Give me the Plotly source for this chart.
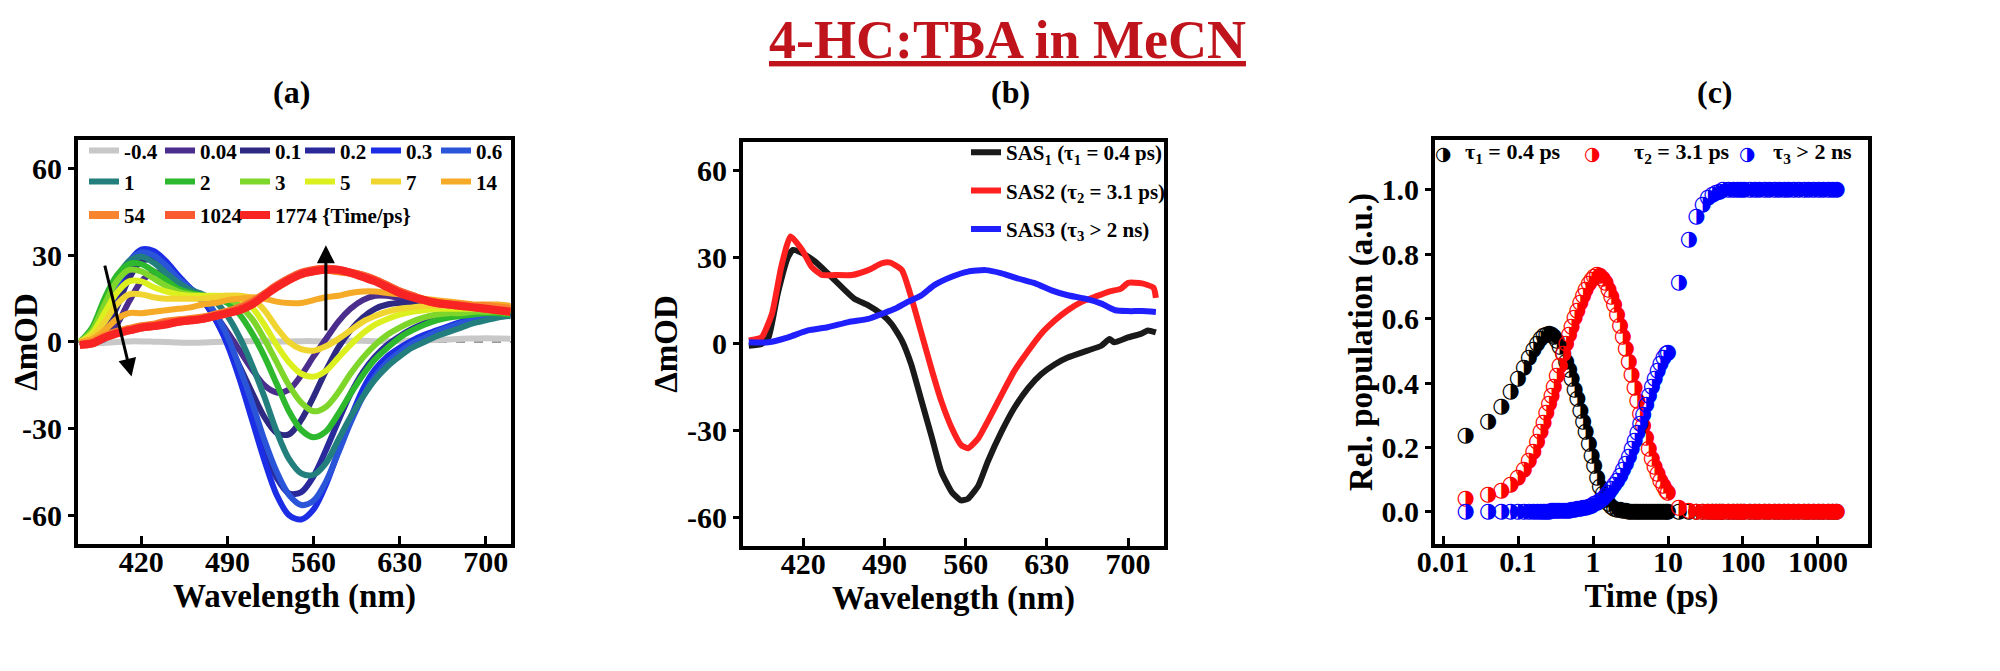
import plotly.graph_objects as go

FONT = "Liberation Serif"
GLYPH_FONT = "DejaVu Sans"

# ---------------- panel (a): transient absorption spectra ----------------
wl_a = [370, 380, 390, 400, 410, 420, 430, 440, 450, 460, 470, 480,
        490, 500, 510, 520, 530, 540, 550, 560, 570, 580, 590, 600,
        610, 620, 630, 640, 650, 660, 670, 680, 690, 700, 710, 720]

delays_a = ["-0.4", "0.04", "0.1", "0.2", "0.3", "0.6", "1", "2", "3",
            "5", "7", "14", "54", "1024", "1774 {Time/ps}"]
colors_a = ["#c8c8c8", "#4a2d8c", "#2e2a84", "#29299c", "#1c2de6", "#2a55d8",
            "#237f7d", "#2db82d", "#7ed62b", "#dcf020", "#f0d530", "#f5ab27",
            "#f8842e", "#fb5a31", "#f82323"]

d_m04 = [-0.8, -0.5, -0.3, 0.0, 0.2, 0.2, 0.1, 0.0, -0.2, -0.3, -0.2, 0.0,
         0.1, 0.2, 0.3, 0.3, 0.2, 0.2, 0.3, 0.3, 0.2, 0.3, 0.4, 0.4,
         0.3, 0.3, 0.4, 0.5, 0.6, 0.7, 0.9, 1.1, 1.2, 1.3, 1.2, 1.1]
d_004 = [0, 0, 1, 6, 14, 21, 24, 23.5, 21, 17.5, 14, 9.5,
         3.5, -3, -9.5, -15, -17.5, -16.5, -11.5, -5, 1, 7, 11.5, 14.5,
         16, 16, 15, 14, 13, 12.5, 12, 11.5, 11, 10.5, 10, 9]
d_01 = [0, 0, 3, 12, 22, 28, 28.5, 26, 22, 18, 14.5, 8,
        0, -8.5, -17.5, -26, -31.5, -32, -27, -19, -10, -2, 4, 8.5,
        11.5, 13, 13.5, 13.5, 13, 12.5, 12, 11.5, 11, 10.5, 10, 9]
d_02 = [0, 0.5, 5, 16, 26, 30.5, 30, 27, 22.5, 18.5, 15, 9,
        0, -11, -24, -37, -47, -52.5, -52, -46.5, -37.5, -27.5, -18, -10.5,
        -5, -1, 2, 4.5, 6.5, 8, 9, 10, 10, 10.5, 10, 9.5]
d_03 = [0, 1, 7, 18, 27.5, 32, 31.5, 28, 23, 18.5, 14.5, 8,
        -1, -13, -27, -41, -53, -60, -61.5, -58, -49.5, -38, -26.5, -16.5,
        -9.5, -5, -2, 0.5, 2.5, 4, 5.5, 7, 8.5, 9, 9.5, 9]
d_06 = [0, 2, 9, 20, 28, 31, 30, 26.5, 22, 18.5, 15.5, 10,
        2, -9, -21, -34, -45, -53, -56.5, -55, -48.5, -38.5, -28, -19,
        -12, -7, -3.5, -0.5, 1.5, 3.5, 5, 6.5, 7.5, 8.5, 9, 9]
d_1 = [0, 3, 12, 22, 28, 29.5, 27.5, 24, 20.5, 18, 16.5, 14,
       9, 1.5, -8, -19, -31, -40.5, -45.5, -46, -42, -34, -26, -19,
       -13, -8.5, -5, -2, 0, 2, 3.5, 5, 6.5, 7.5, 8.5, 9]
d_2 = [0, 5, 15, 23, 27, 27, 24.5, 21.5, 18.5, 17, 16, 15,
       13.5, 9.5, 3, -5, -14.5, -24, -30.5, -33, -31, -25, -18, -11.5,
       -6, -2, 1.5, 4, 6, 7.5, 8.5, 9, 9.5, 10, 10, 9.5]
d_3 = [0, 4, 13, 21, 25, 24.5, 22, 19.5, 17.5, 16.5, 16, 15.5,
       15, 12.5, 8, 1, -7, -15, -21, -24, -22.5, -17.5, -11, -5.5,
       -1, 2.5, 5, 7, 8.5, 9.5, 10, 10, 10.5, 10.5, 10.5, 10]
d_5 = [0, 3, 10, 17, 21, 21, 19, 17.5, 16.5, 16, 16, 16,
       16, 15, 12, 6, -1, -7, -11, -12, -10, -5.5, -1, 3,
       6, 8, 9.5, 10.5, 11, 11.5, 11.5, 11.5, 11.5, 11.5, 11.5, 11]
d_7 = [0, 2, 7, 13, 16.5, 16.5, 15.5, 15, 15, 15, 15, 15.5,
       16, 16, 15, 11, 5, 0, -2.5, -3, -1.5, 1, 4, 7,
       9, 10.5, 11.5, 12, 12.5, 12.5, 12.5, 12.5, 12, 12, 12, 11.5]
d_14 = [0, 1, 4, 8, 10, 10, 10.5, 11, 11.5, 12, 13, 13.5,
        14.5, 15, 15.5, 15, 14, 13.5, 13.5, 14.5, 15.5, 16, 17, 17.5,
        17.5, 17, 16.5, 16, 15, 14.5, 14, 13.5, 13, 13, 13, 12.5]
d_54 = [-1, 0, 2, 3.5, 4.5, 5.5, 6, 7, 7.5, 8, 8.5, 9.5,
        10.5, 12, 14, 16.5, 19, 21.5, 23.5, 24.5, 25, 24.5, 24, 23,
        21.5, 19.5, 17.5, 16, 14.5, 13.5, 13, 13, 12.5, 12.5, 12, 11.5]
d_1024 = [-1, -0.5, 1.5, 3, 4, 5, 5.5, 6.5, 7, 7.5, 8, 9,
          10, 11.5, 13.5, 16.5, 19.5, 22, 24, 25, 25.5, 25, 24, 23,
          21.5, 19.5, 17.5, 16, 14.5, 13.5, 13, 12.5, 12, 11.5, 11, 10.5]
d_1774 = [-1, -0.5, 1.5, 3, 4, 5, 5.5, 6, 7, 7.5, 8, 9,
          10, 11, 13, 16, 19, 21.5, 23.5, 24.5, 25, 25, 24, 22.5,
          21, 19, 17, 15.5, 14.5, 13.5, 13, 12.5, 12, 11.5, 11, 10.5]

spectra_a = [d_m04, d_004, d_01, d_02, d_03, d_06, d_1, d_2, d_3,
             d_5, d_7, d_14, d_54, d_1024, d_1774]

# ---------------- panel (b): species associated spectra ----------------
wl_sas1 = [373, 384, 390, 398, 407, 411, 419, 430, 441, 453, 464, 476, 487,
           496, 505, 513, 522, 531, 539, 548, 556, 562, 571, 579, 591, 602,
           614, 625, 637, 648, 665, 677, 684, 688, 700, 711, 717, 724]
sas1 = [-0.6, 0, 2.3, 17.5, 30.3, 32.6, 31.5, 28.6, 24.5, 19.8, 15.7, 13.4, 10.5,
        7, 1.2, -7, -19.8, -32.6, -44.3, -51.3, -54.2, -53.6, -49, -40.8, -30.3, -22.1,
        -15.2, -10.5, -7, -4.7, -2.3, -0.6, 1.7, 0.6, 2.3, 3.5, 4.7, 4]
wl_sas2 = [373, 384, 393, 401, 409, 419, 427, 436, 447, 462, 476, 488, 495,
           505, 513, 522, 531, 539, 548, 556, 562, 571, 579, 591, 602, 614,
           625, 637, 648, 660, 671, 683, 694, 700, 712, 722, 724]
sas2 = [1.2, 2.3, 10.5, 26.8, 37.3, 32.6, 26.8, 23.9, 23.9, 23.9, 25.6, 28, 28.2,
        25.6, 16.3, 3.5, -9.3, -19.8, -29.1, -35, -36.1, -32.6, -26.8, -17.5, -9.3, -2.3,
        3.5, 8.2, 11.7, 14.6, 16.3, 18.1, 19.2, 21.2, 21, 19.5, 16]
wl_sas3 = [373, 390, 407, 424, 441, 459, 476, 488, 499, 510, 522, 533, 548,
           562, 577, 591, 605, 620, 634, 648, 663, 677, 689, 700, 712, 724]
sas3 = [0.6, 0.6, 2.3, 4.7, 5.8, 7.6, 8.7, 10.5, 12.2, 14.6, 16.9, 20.4, 23.3,
        25.1, 25.6, 24.5, 22.7, 21, 18.6, 16.9, 15.7, 14, 11.7, 11.4, 11.4, 11.1]

sas_names = ["SAS<sub>1</sub> (τ<sub>1</sub> = 0.4 ps)",
             "SAS2 (τ<sub>2</sub> = 3.1 ps)",
             "SAS3 (τ<sub>3</sub> > 2 ns)"]
sas_colors = ["#1a1a1a", "#ff2020", "#2020ff"]

# ---------------- panel (c): relative populations ----------------
t_c = [0.02, 0.04, 0.06, 0.08, 0.1, 0.12, 0.14, 0.16, 0.18, 0.2,
       0.22, 0.24, 0.26, 0.28, 0.3, 0.33, 0.36, 0.4, 0.44, 0.48,
       0.52, 0.57, 0.62, 0.68, 0.74, 0.8, 0.88, 0.96, 1.04, 1.14,
       1.24, 1.36, 1.48, 1.62, 1.76, 1.92, 2.1, 2.3, 2.5, 2.74,
       3.0, 3.28, 3.58, 3.9, 4.26, 4.66, 5.1, 5.56, 6.08, 6.64,
       7.26, 7.92, 8.66, 9.46, 10.0,
       14, 19, 24, 29, 34, 39, 44, 49, 54, 64,
       74, 84, 94, 104, 124, 144, 164, 194, 224, 264,
       304, 354, 404, 474, 554, 654, 754, 874, 1024, 1174,
       1374, 1574, 1774]
pop_1 = [0.235, 0.28, 0.325, 0.372, 0.412, 0.448, 0.478, 0.503, 0.523, 0.537,
         0.546, 0.551, 0.552, 0.549, 0.543, 0.53, 0.513, 0.49, 0.465, 0.44,
         0.413, 0.38, 0.35, 0.315, 0.28, 0.25, 0.212, 0.175, 0.142, 0.105,
         0.078, 0.055, 0.038, 0.026, 0.017, 0.011, 0.007, 0.005, 0.003, 0.002,
         0.001, 0, 0, 0, 0, 0, 0, 0, 0, 0,
         0, 0, 0, 0, 0,
         0, 0, 0, 0, 0, 0, 0, 0, 0, 0,
         0, 0, 0, 0, 0, 0, 0, 0, 0, 0,
         0, 0, 0, 0, 0, 0, 0, 0, 0, 0,
         0, 0, 0]
pop_2 = [0.04, 0.052, 0.065, 0.083, 0.105, 0.13, 0.158, 0.188, 0.218, 0.248,
         0.278, 0.307, 0.335, 0.362, 0.388, 0.423, 0.455, 0.49, 0.522, 0.55,
         0.575, 0.602, 0.625, 0.65, 0.672, 0.69, 0.708, 0.722, 0.731, 0.735,
         0.733, 0.724, 0.71, 0.69, 0.668, 0.642, 0.612, 0.578, 0.545, 0.505,
         0.465, 0.425, 0.385, 0.345, 0.305, 0.266, 0.229, 0.195, 0.165, 0.14,
         0.118, 0.098, 0.08, 0.066, 0.058,
         0.012, 0.003, 0, 0, 0, 0, 0, 0, 0, 0,
         0, 0, 0, 0, 0, 0, 0, 0, 0, 0,
         0, 0, 0, 0, 0, 0, 0, 0, 0, 0,
         0, 0, 0]
pop_3 = [0, 0, 0, 0, 0, 0, 0, 0, 0, 0.001,
         0.001, 0.001, 0.001, 0.002, 0.002, 0.002, 0.003, 0.003, 0.004, 0.004,
         0.005, 0.006, 0.008, 0.01, 0.012, 0.014, 0.017, 0.02, 0.024, 0.029,
         0.035, 0.042, 0.05, 0.06, 0.071, 0.083, 0.097, 0.113, 0.13, 0.15,
         0.172, 0.196, 0.221, 0.247, 0.275, 0.303, 0.332, 0.36, 0.388, 0.414,
         0.439, 0.461, 0.478, 0.49, 0.495,
         0.71, 0.845, 0.915, 0.955, 0.975, 0.985, 0.99, 0.995, 1.0, 1.0,
         1.0, 1.0, 1.0, 1.0, 1.0, 1.0, 1.0, 1.0, 1.0, 1.0,
         1.0, 1.0, 1.0, 1.0, 1.0, 1.0, 1.0, 1.0, 1.0, 1.0,
         1.0, 1.0, 1.0]
pop_labels = ["τ<sub>1</sub> = 0.4 ps", "τ<sub>2</sub> = 3.1 ps", "τ<sub>3</sub> > 2 ns"]
pop_colors = ["#000000", "#ff0000", "#0000ff"]

mod_ticks = [-60, -30, 0, 30, 60]
mod_ticktext = ["-60", "-30", "0", "30", "60"]
wl_ticks = [420, 490, 560, 630, 700]

fig = go.Figure()

# panel (a): each legend entry is its own small legend so the grid matches the figure
leg_cols = [0.038, 0.076, 0.1135, 0.146, 0.179, 0.214]
leg_rows = [0.787, 0.741, 0.691]
leg_font = dict(family=FONT, size=21, color="black", weight="bold")
legends = {}
for i, (name, col, vals) in enumerate(zip(delays_a, colors_a, spectra_a)):
    key = "legend" if i == 0 else f"legend{i + 1}"
    legends[key] = dict(x=leg_cols[i % 6], y=leg_rows[i // 6], xanchor="left", yanchor="middle",
                        bgcolor="rgba(0,0,0,0)", font=leg_font, itemwidth=30)
    wide = i >= 12
    fig.add_trace(go.Scatter(
        x=wl_a, y=vals, mode="lines", name=name, legend=key,
        line=dict(color=col, width=8 if wide else 6, shape="spline", smoothing=0.9),
        xaxis="x", yaxis="y", hoverinfo="skip",
    ))

# panel (b)
for i, (wl, vals) in enumerate([(wl_sas1, sas1), (wl_sas2, sas2), (wl_sas3, sas3)]):
    fig.add_trace(go.Scatter(
        x=wl, y=vals, mode="lines", name=sas_names[i], legend="legend16",
        legendgroup=f"sas{i}",
        line=dict(color=sas_colors[i], width=6, shape="spline", smoothing=0.5),
        xaxis="x2", yaxis="y2", hoverinfo="skip",
    ))

# panel (c) - half filled circles
for vals, col in zip([pop_1, pop_2, pop_3], pop_colors):
    fig.add_trace(go.Scatter(
        x=t_c, y=vals, mode="text", text=["◑"] * len(t_c),
        textposition="middle center",
        textfont=dict(family=GLYPH_FONT, size=21, color=col),
        showlegend=False, xaxis="x3", yaxis="y3", hoverinfo="skip",
    ))

tickfont = dict(family=FONT, size=30, color="black", weight="bold")
titlefont = dict(family=FONT, size=33, color="black", weight="bold")
axis_common = dict(showline=True, linewidth=4, linecolor="black", mirror=True,
                   showgrid=False, zeroline=False, tickfont=tickfont, automargin=False,
                   tickwidth=3, tickcolor="black")

dom_y = [0.2012, 0.8033]
fig.update_layout(
    template="none",
    width=2000, height=671,
    margin=dict(l=0, r=0, t=0, b=0),
    paper_bgcolor="white", plot_bgcolor="white",
    font=dict(family=FONT, color="black", weight="bold"),
    xaxis=dict(domain=[0.035, 0.2515], range=[368.5, 720.5], tickvals=wl_ticks,
               ticks="inside", ticklen=8, ticklabelstandoff=-12,
               title=dict(text="Wavelength (nm)", font=titlefont, standoff=2),
               anchor="y", **axis_common),
    yaxis=dict(domain=dom_y, range=[-70, 70], tickvals=mod_ticks, ticktext=mod_ticktext,
               ticks="outside", ticklen=6, title=dict(text="ΔmOD", font=titlefont, standoff=2),
               anchor="x", **axis_common),
    xaxis2=dict(domain=[0.3675, 0.578], range=[368, 731], tickvals=wl_ticks,
                ticks="inside", ticklen=8, ticklabelstandoff=-12,
                title=dict(text="Wavelength (nm)", font=titlefont, standoff=2),
                anchor="y2", **axis_common),
    yaxis2=dict(domain=[0.1982, 0.8003], range=[-70, 70], tickvals=mod_ticks, ticktext=mod_ticktext,
                ticks="outside", ticklen=6, title=dict(text="ΔmOD", font=titlefont, standoff=0),
                anchor="x2", **axis_common),
    xaxis3=dict(domain=[0.7135, 0.93], type="log", range=[-2.107, 3.667],
                tickvals=[0.01, 0.1, 1, 10, 100, 1000],
                ticktext=["0.01", "0.1", "1", "10", "100", "1000"],
                ticks="inside", ticklen=8, ticklabelstandoff=-12,
                title=dict(text="Time (ps)", font=titlefont, standoff=2),
                anchor="y3", **axis_common),
    yaxis3=dict(domain=dom_y, range=[-0.1, 1.155], tickvals=[0, 0.2, 0.4, 0.6, 0.8, 1.0],
                tickformat=".1f", ticks="outside", ticklen=6,
                title=dict(text="Rel. population (a.u.)", font=titlefont, standoff=0),
                anchor="x3", **axis_common),
    showlegend=True,
    **legends,
)
fig.update_layout(
    legend16=dict(x=0.479, xanchor="left", y=0.815, yanchor="top", orientation="v",
                  traceorder="grouped", tracegroupgap=8, bgcolor="rgba(0,0,0,0)",
                  font=dict(family=FONT, size=21, color="black", weight="bold")),
)

# dashed zero reference in panel (a)
fig.add_shape(type="line", xref="x domain", yref="y", x0=0, x1=1, y0=0, y1=0,
              line=dict(color="#9a9a9a", width=2, dash="dash"), layer="below")

# arrows in panel (a)
fig.add_annotation(x=412, y=-12, ax=390, ay=27, xref="x", yref="y", axref="x", ayref="y",
                   text="", showarrow=True, arrowhead=2, arrowsize=1.2, arrowwidth=3,
                   arrowcolor="black")
fig.add_annotation(x=570, y=33.5, ax=570, ay=3.5, xref="x", yref="y", axref="x", ayref="y",
                   text="", showarrow=True, arrowhead=2, arrowsize=1.2, arrowwidth=3,
                   arrowcolor="black")

# legend for panel (c)
leg_c_glyph_x = [0.7175, 0.792, 0.8695]
leg_c_text_x = [0.7275, 0.812, 0.8815]
for gx, tx, lab, col in zip(leg_c_glyph_x, leg_c_text_x, pop_labels, pop_colors):
    fig.add_annotation(x=gx, y=0.784, xref="paper", yref="paper", text="◑", showarrow=False,
                       xanchor="center", yanchor="middle",
                       font=dict(family=GLYPH_FONT, size=19, color=col))
    fig.add_annotation(x=tx, y=0.784, xref="paper", yref="paper", text=lab, showarrow=False,
                       xanchor="left", yanchor="middle",
                       font=dict(family=FONT, size=22, color="black", weight="bold"))

# titles
fig.add_annotation(x=0.4995, y=0.953, xref="paper", yref="paper", xanchor="center", yanchor="middle",
                   text="<u>4-HC:TBA in MeCN</u>", showarrow=False,
                   font=dict(family=FONT, size=54, color="#c0141c", weight="bold"))
for px_, lab in zip([0.1415, 0.501, 0.8535], ["(a)", "(b)", "(c)"]):
    fig.add_annotation(x=px_, y=0.875, xref="paper", yref="paper", text=lab, showarrow=False,
                       xanchor="center", yanchor="middle",
                       font=dict(family=FONT, size=32, color="black", weight="bold"))

fig.write_html("out.html")
